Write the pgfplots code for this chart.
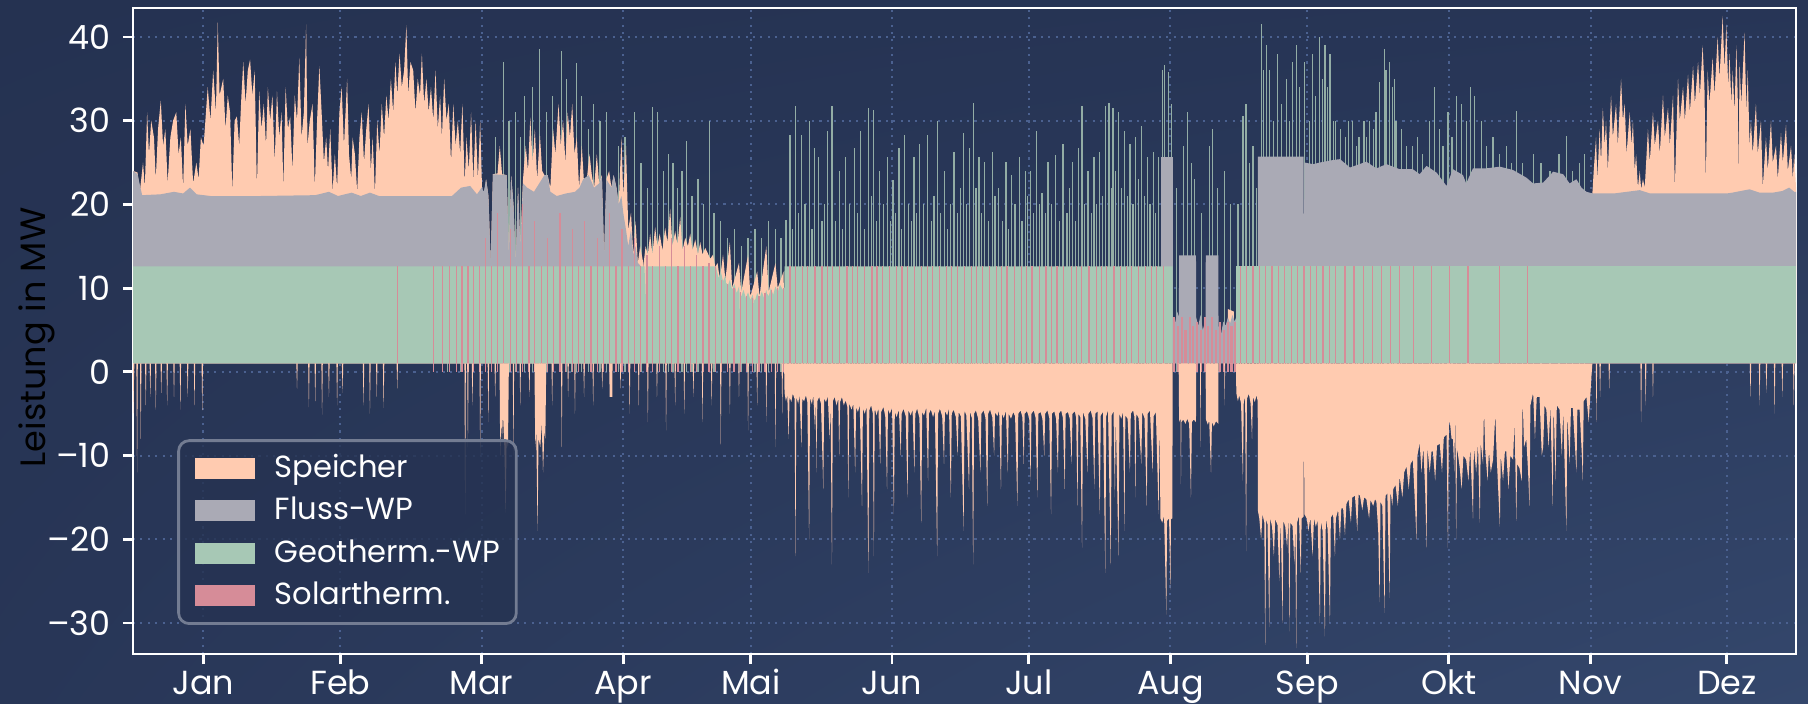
\documentclass[border=0pt]{standalone}
\usepackage{pgfplots}
\pgfplotsset{compat=1.18}
\usetikzlibrary{shadings}
\usepackage{fontspec}
\setmainfont{Poppins}
\definecolor{bg}{HTML}{263352}
\definecolor{bgA}{HTML}{253251}
\definecolor{bgB}{HTML}{273556}
\definecolor{bgC}{HTML}{283657}
\definecolor{bgD}{HTML}{34476C}
\definecolor{speicher}{HTML}{FFCBB0}
\definecolor{fluss}{HTML}{AAAAB5}
\definecolor{geo}{HTML}{A7C8B5}
\definecolor{solar}{HTML}{D68C98}
\definecolor{gridc}{HTML}{4B6190}
\definecolor{spikec}{HTML}{93ADA5}
\definecolor{legbord}{HTML}{737C92}
\begin{document}
\begin{tikzpicture}
\useasboundingbox (0,0) rectangle (18.08,7.03);
\shade[upper left=bgA, upper right=bgB, lower left=bgC, lower right=bgD] (0,0) rectangle (18.08,7.03);
\begin{axis}[
  at={(1.33cm,0.49cm)}, anchor=south west,
  scale only axis, width=16.63cm, height=6.46cm,
  xmin=0, xmax=365, ymin=-33.7, ymax=43.45,
  xtick={15.4,45.5,76.5,107.6,135.6,166.6,196.6,227.7,257.7,288.8,319.9,349.8},
  xticklabels={Jan,Feb,Mar,Apr,Mai,Jun,Jul,Aug,Sep,Okt,Nov,Dez},
  ytick={-30,-20,-10,0,10,20,30,40},
  yticklabels={–30,–20,–10,0,10,20,30,40},
  tick pos=left, tick align=outside, major tick length=0.1cm,
  tick style={white, line width=0.8pt},
  axis line style={white, line width=0.8pt},
  grid=major,
  grid style={gridc, line width=0.55pt, dash pattern=on 0.6pt off 1.5pt},
  tick label style={font=\fontsize{9.5}{11}\selectfont, text=white},
  xticklabel style={anchor=north, inner sep=0pt, text height=0.72em, text depth=0.2em, yshift=-0.04cm},
  ylabel={Leistung in MW},
  ylabel style={font=\fontsize{10.6}{12}\selectfont, text=white},
  every axis y label/.style={at={(axis description cs:-0.058,0.49)}, rotate=90, anchor=center},
  legend image code/.code={\fill[#1, draw=none, sharp corners, fill opacity=1] (0cm,-0.105cm) rectangle (0.6cm,0.105cm);},
  legend cell align=left,
  legend style={at={(axis cs:9.7,-8.05)}, anchor=north west, fill=bg, fill opacity=0.82, text opacity=1, draw=legbord, draw opacity=1,
    line width=0.8pt, rounded corners=3pt, text=white, font=\fontsize{8.7}{10}\selectfont,
    inner xsep=0.16cm, inner ysep=0.12cm, row sep=0.108cm,
    nodes={inner sep=0pt, text height=0.7em, text depth=0.2em},
    /tikz/every odd column/.append style={column sep=0.2cm}},
]
% upward spikes (behind the areas)
\addplot[forget plot, ycomb, spikec, line width=0.35pt] coordinates {
(69,25) (72,24) (79.5,28) (81.3,37) (82.5,30) (84,31) (85.1,28) (86,33) (87.7,34) (89.3,38.5) (90.7,31) (92,33) (94,38.3) (95.2,35) (96.2,30) (97.3,36.9) (98.5,33) (99.9,29) (101,32) (102.5,30) (104,31) (106.5,27) (108,28) (110.1,31) (111.5,25) (113,22) (114.1,31.6) (115.2,31) (116.5,24) (117.5,26) (118.5,25) (119.5,22) (120.5,24) (121.5,27.6) (122.7,21) (124,23) (125.2,20) (126.5,30) (127.5,19) (129,18) (130.5,16) (132,17) (133.5,15) (135,16) (136.5,17) (138,16) (139.5,18) (141,17) (142.2,16)
(143.3,18.1) (144.2,28.3) (144.8,17) (145.4,31.8) (146,19) (146.7,28.3) (147.5,20) (148.4,29.9) (149,17) (149.6,26.7) (150.5,25.6) (151.2,18) (151.8,20) (152.5,28.8) (153.4,31.8) (154.2,18) (155.1,24) (155.7,17) (156.3,25.6) (157.3,20) (158.4,26.7) (159,19) (159.7,28.8) (160.5,17) (161.4,31.5) (162,21) (162.6,31.3) (163.2,18) (163.9,24) (164.7,20) (165.6,25.6) (166.2,18) (166.8,22.9) (167.4,19) (168.1,26.7) (168.7,17) (169.3,28.3) (170.2,20) (170.8,18) (171.4,25.6) (172,19) (172.7,27.2) (173.5,20) (174.4,28.3) (175.2,18) (175.8,21) (176.5,29.9) (177.3,19) (178.1,24) (178.8,17) (179.4,20) (180.2,26.2) (181,19) (181.6,22) (182.3,28.5) (183,20) (183.6,26.7) (184.4,32.1) (185,22) (185.7,25.6) (186.3,19) (186.9,25.1) (187.7,18) (188.6,26.2) (189.2,21) (189.9,21.9) (190.8,18) (191.6,25.1) (192.2,17) (192.8,23.5) (193.6,20) (194.5,25.6) (195.1,18) (195.8,24) (196.4,21) (197,24) (197.6,19) (198.3,28.8) (198.9,20) (199.5,21.3) (200.2,19) (200.8,25.1) (201.6,20) (202.5,25.9) (203.3,18) (204.1,27.2) (205,19) (205.6,22) (206.2,25.1) (206.8,18) (207.5,26.7) (208.3,31.8) (208.9,20) (209.6,24) (210.3,19) (210.9,25.6) (211.5,20) (212.1,26.2) (212.8,21) (213.4,31.8) (214.2,32.1) (214.7,22) (215.1,31.5) (215.7,24) (216.3,31) (217,22) (217.6,28.8) (218.2,21) (218.8,27.2) (219.5,20) (220.1,28) (220.7,23) (221.3,29.4) (222,21) (222.6,25.6) (223.2,20) (223.9,26.2) (224.5,19) (225.1,25.6) (225.9,36) (226.4,36.6) (227.2,35.8) (227.9,32)
(229,22) (230.5,27) (231.5,31) (232.3,25) (233,23) (234.5,19) (236.2,27) (237,29) (238,22) (239.5,24) (240.8,20)
(242.5,20) (243.6,30.5) (244.3,32) (245,25) (245.8,27) (246.5,22) (247.6,41.6) (248.2,36) (248.7,39) (249.4,36) (250.3,30) (251.2,38) (252,32) (253.1,35) (253.8,30) (254.5,37) (255.3,39) (256,34) (257.1,37) (258.2,30) (258.9,38) (259.6,33) (260.4,40) (261,35) (261.6,39) (262.2,34) (262.7,38) (263.5,30) (264,30) (265,29) (266.2,28) (266.7,30) (267.7,30) (268.5,27) (269.1,28) (270.2,30) (270.7,28) (271.3,30) (272.2,29) (272.8,31) (273.6,34.6) (274.7,38.5) (275,36) (275.7,37) (276.5,34) (276.9,35) (277.2,30) (278.4,29) (279.5,27) (280.9,27) (282,28) (283,26) (284.6,30) (285.7,34) (286.8,29) (287.5,27) (288.6,31) (289.5,28) (290.4,33) (291.5,32) (292.6,30) (293.5,34) (294.5,33) (295.9,30) (297,27) (298.5,28) (300,26) (301.4,27) (302.5,25) (303.6,31.2) (305,25) (307.3,26) (309,25) (311,24) (313,26) (314.6,28.2) (316,24) (317.5,25) (318.6,26)
};
% Speicher (positive), total top
\addplot[forget plot, fill=speicher, draw=none] coordinates {
(0,1) (0,24) (1,23.8) (1.5,21.5) (2.2,25) (2.6,22) (3.1,31) (3.5,26) (4.0,30) (4.6,28) (5.0,23) (5.5,29) (6.1,32.4) (6.6,27) (7.1,29) (7.6,22.5) (8.2,28) (8.8,30) (9.5,31) (10,26) (10.5,28) (11.0,22) (11.5,32) (12.0,27) (12.6,29) (13.2,22.5) (13.9,25) (14.4,23) (14.9,28) (15.5,27) (16.4,34) (17,30) (17.6,36) (18.2,31) (18.6,41.7) (19.0,33) (19.8,35) (20.3,29) (20.8,33) (21.3,31) (21.8,21.5) (22.3,30) (22.8,30.5) (23.3,27) (23.8,33) (24.2,37) (24.7,32) (25.2,36) (25.7,37.3) (26.2,33) (26.7,36) (27.2,22) (27.7,33.5) (28.2,29) (28.7,32) (29.2,27) (29.6,34) (30.1,30) (30.6,33) (31.1,25) (31.6,33.5) (32.1,28) (32.6,31) (33.0,22) (33.5,34) (34.0,29) (34.5,30.5) (35,24) (35.5,33) (36.0,30) (36.5,37.5) (37.0,28) (37.5,31) (38.0,41.5) (38.3,27) (38.8,30) (39.4,32) (39.9,22) (40.4,30) (40.9,36.5) (41.4,31) (41.9,25) (42.4,28) (42.8,24) (43.3,29) (43.8,21.5) (44.3,26) (44.8,22) (45.3,31) (45.8,34) (46.3,27) (47,35) (47.4,26) (47.9,23) (48.2,28) (48.7,26) (49.2,21.5) (49.7,28) (50.2,31) (50.7,25) (51.2,29) (51.7,32) (52.2,24) (52.6,28) (53.1,21.3) (53.6,30) (54.1,26) (54.6,32) (55.1,28) (55.6,33) (56.1,30) (56.6,35) (57.1,31) (57.6,37) (58.0,33) (58.5,38) (59.0,34) (59.5,36) (60,41.4) (60.4,33) (60.9,37) (61.5,36) (62,31) (62.5,35) (63,33) (63.4,38) (63.9,32) (64.4,35) (64.9,31) (65.4,34) (65.9,30) (66.4,36) (66.9,29) (67.4,33) (67.8,28) (68.3,35) (68.8,30) (69.3,32) (69.8,25) (70.3,32) (70.8,27) (71.3,30) (71.8,26) (72.3,32) (72.8,22.5) (73.2,28) (73.7,24) (74.2,31) (74.7,22.8) (75.2,30) (75.7,23) (76.2,30) (76.6,22) (77.0,21) (77.5,23) (78,21) (78.5,13) (79,23.6) (80,23.7) (80.5,27) (81,23.6) (82,23.5) (82.5,14) (83.0,23.4) (83.5,20) (84,13) (84.5,22) (85,15) (85.6,23) (86.2,27) (86.7,24) (87.2,30.4) (87.7,25) (88.2,29) (88.7,23) (89.3,28.4) (89.8,24) (90.3,23.5) (91,23.5) (91.6,22) (92.2,29) (92.7,26) (93.4,32) (93.9,27) (94.4,30) (94.9,25) (95.4,31) (95.9,28) (96.4,32) (96.9,26) (97.4,28) (97.9,22) (98.5,27) (99,22.5) (99.6,23) (100.2,26) (100.7,23.5) (101.2,22) (101.8,26) (102.3,22.5) (102.9,23.5) (103.4,14) (103.9,23) (104.5,24) (105,22) (105.5,23.5) (106.1,22) (106.6,20) (107.2,28) (107.6,21) (108.2,27) (108.7,17) (109.3,19) (109.8,14) (110.3,18) (110.8,13) (111.3,15) (112,13) (112,1)
} -- cycle;
\addplot[forget plot, fill=speicher, draw=none] coordinates {
(112,1) (112,12.6) (112.5,15) (113,14) (113.5,16.5) (114,14) (114.6,17.3) (115.1,15) (115.6,16.5) (116.2,14.5) (116.8,17.2) (117.3,15.5) (117.9,19.5) (118.4,15) (119,16.8) (119.5,15.2) (120.1,18.5) (120.6,14.5) (121.2,16) (121.8,15) (122.3,16.5) (122.8,14.5) (123.4,15.8) (124,14) (124.5,15.5) (125,14) (125.6,14.8) (126.2,14.1) (126.7,13.5) (127.3,14) (127.8,12.5) (128.3,13) (128.8,11) (129.5,14) (130,11) (131,15.5) (131.5,10) (133,13) (133.5,9.5) (135,14) (135.5,9) (137,12) (137.5,9) (139,15) (139.5,9.5) (141,13) (141.5,10) (142.8,12) (143,1)
} -- cycle;
\addplot[forget plot, fill=speicher, draw=none] coordinates {
(240.2,1) (240.3,7.5) (241.6,7.2) (241.7,1)
} -- cycle;
\addplot[forget plot, fill=speicher, draw=none] coordinates {
(320.3,1) (320.3,21.3) (320.6,24) (321.1,28) (321.4,23) (321.9,29) (322.2,25) (322.6,31.5) (323,27) (323.3,30) (323.7,24) (324.4,33) (324.8,28) (325.5,32) (325.9,27) (326.6,35) (327,30) (327.4,32) (327.8,26) (328.5,31) (328.9,27) (329.2,30) (329.6,24) (329.9,26) (330.3,22) (330.7,24) (331,21.8) (331.4,23) (331.8,22) (332.5,29) (332.9,25) (333.6,31) (334,27) (334.7,30) (335.1,26) (335.8,33) (336.2,28) (336.9,31.5) (337.3,27) (338,33) (338.4,22) (339.1,35) (339.5,30) (340.2,34) (340.6,30) (341.3,35.5) (341.7,31) (342.4,36.5) (342.8,32) (343.5,37) (343.9,33) (344.5,39) (344.9,34) (345.2,22.5) (345.6,36) (346,32) (346.7,37.5) (347.1,33) (347.8,40) (348.2,35) (348.9,42.5) (349.3,36) (349.7,41.5) (350.1,34) (350.4,38) (350.8,32) (351.1,36) (351.5,31) (351.9,39) (352.2,33) (352.4,23) (352.6,37) (353,32) (353.7,40.5) (354.1,31) (354.4,36) (354.8,27) (355.1,30) (355.5,26) (356.2,32) (356.6,26) (357.3,30) (357.7,22) (358.4,28) (358.8,24) (359.5,30) (359.9,25) (360.6,27) (361,23) (361.7,28.5) (362.1,25) (362.8,29.5) (363.2,24) (363.9,27) (364.3,23) (364.6,26) (365,22) (365,1)
} -- cycle;
% Fluss-WP top
\addplot[forget plot, fill=fluss, draw=none] coordinates {
(0,1) (0,24) (1,23.6) (2,21.1) (6,21.2) (9,21.5) (11,21.3) (12.5,22) (14,21.2) (17,21) (28,21) (40,21.1) (43,21.5) (45,21) (48,21.4) (50,21) (52,21.4) (54,21) (66,21) (70,21) (72,22) (74,22.2) (75.5,21.2) (76.5,22) (77,21.5) (77.5,23) (78,21) (78.5,13) (79,23.6) (82,23.5) (82.5,14) (83,23.4) (83.5,20) (84,13) (84.5,22) (85,15) (85.6,22.5) (86.5,22) (88,21.5) (90.3,23.5) (91,23.5) (91.6,21.5) (93,21) (95,21.3) (97,21.5) (98,22) (98.8,23) (100,23.5) (101.2,22) (102.3,22.5) (102.9,23.3) (103.4,14) (103.9,23) (105,22) (105.5,23.5) (106.1,22) (106.6,20) (107.2,21) (107.6,19) (108.2,17) (108.7,15) (109.3,17) (109.8,14) (110.3,15) (110.8,13) (111.5,12.6) (111.5,1)
} -- cycle;
\addplot[forget plot, fill=fluss, draw=none] coordinates {
(225.6,1) (225.6,25.7) (228.15,25.7) (228.15,1)
} -- cycle;
\addplot[forget plot, fill=fluss, draw=none] coordinates {
(228.2,1) (228.25,6.5) (228.7,5.8) (229.2,7.2) (229.55,6.5) (229.6,13.9) (233.3,13.9) (233.35,6.5) (233.8,5.5) (234.3,6.8) (234.8,5) (235.4,6.2) (235.45,13.9) (238.2,13.9) (238.25,5.5) (238.8,4.5) (239.3,6) (239.8,5.5) (240.3,6.5) (240.8,5.8) (241.3,6.8) (241.8,6) (242.1,6.5) (242.1,1)
} -- cycle;
\addplot[forget plot, fill=fluss, draw=none] coordinates {
(246.85,1) (246.9,25.7) (256.9,25.7) (257.0,13) (257.1,25) (259,24.8) (260.5,25) (263.4,25.3) (264.9,25.4) (267.1,24.4) (270.7,25.1) (272.9,24.3) (275.1,24.8) (278,24.2) (280.9,24.2) (282.4,23.6) (283.9,24.6) (286.1,23.8) (288.3,22.2) (289.7,24.2) (291.9,23.5) (292.6,22.5) (294.1,24.3) (297,24.3) (300,24.5) (302.9,24.1) (305.8,23.2) (307.3,22.5) (309.5,22.6) (311.7,23.9) (313.9,23.6) (315.3,22.5) (316.8,23) (317.9,22) (319,21.5) (320.4,21.3) (325,21.3) (330.7,21.7) (333,21.3) (349.7,21.3) (351,21.4) (354.8,21.8) (357,21.4) (359.9,21.4) (362,21.6) (363.5,22) (364.6,21.5) (365,21.5) (365,1)
} -- cycle;
% Geotherm.-WP top
\addplot[forget plot, fill=geo, draw=none] coordinates {
(0,1) (0,12.6) (112.3,12.6) (112.4,8) (112.55,12.6) (128,12.6) (128,12.4) (128.5,11.2) (129,12) (129.5,10.8) (130,11.5) (130.15,10.6) (130.2,5) (130.25,10.6) (130.5,10.2) (131,11) (131.5,9.8) (132,10.5) (132.5,9.4) (133,10.2) (133.15,9.2) (133.2,4.5) (133.25,9.2) (133.5,9) (134,9.8) (134.5,8.8) (135,9.5) (135.5,8.6) (136,9.2) (136.15,8.7) (136.2,6) (136.25,8.7) (136.5,8.5) (137,9.4) (137.5,8.7) (138,9.6) (138.5,8.8) (139,9.8) (139.15,9.3) (139.2,5) (139.25,9.3) (139.5,9) (140,10) (140.5,9.2) (141,10.2) (141.5,9.5) (142,10.4) (142.6,9.8) (142.95,10) (143,12.6) (228.2,12.6) (228.2,1)
} -- cycle;
\addplot[forget plot, fill=geo, draw=none] coordinates {
(242.1,1) (242.1,12.6) (365,12.6) (365,1)
} -- cycle;
% Solartherm. lines
\addplot[forget plot, ycomb, solar, line width=0.35pt] coordinates {
(58,12.6) (66,12.6) (68,12.6) (69.5,12.6) (71,12.6) (72.2,12.6) (73.5,12.6) (74.8,12.6) (76,12.6) (77.3,16) (78.6,12.6) (80,19) (81.4,12.6) (82.8,17) (84.2,12.6) (85.5,20) (86.9,12.6) (88.2,18) (89.6,12.6) (91,16) (92.3,12.6) (93.7,19) (95,12.6) (96.4,17) (97.8,12.6) (99.1,18) (100.5,12.6) (101.9,16) (103.2,12.6) (104.6,19) (106,12.6) (107.3,17) (108.7,12.6) (110,16) (111.4,12.6) (112.8,14) (114.1,12.6) (115.5,15) (116.9,12.6) (118.2,16) (119.6,12.6) (121,15) (122.3,12.6) (123.7,14) (125.1,12.6) (126.4,13) (127.8,12.6) (129.2,11) (130.5,10.5) (131.9,10) (133.3,9.5) (134.6,9) (136,8.8) (137.4,9) (138.7,9.4) (140.1,9.8) (141.5,10) (142.8,10)
(144.2,12.6) (145.4,12.6) (146.9,12.6) (148.1,12.6) (149.7,12.6) (151.2,12.6) (152.4,12.6) (153.6,12.6) (155.1,12.6) (156.7,12.6) (157.9,12.6) (159.0,12.6) (160.6,12.6) (162.2,12.6) (163.3,12.6) (164.5,12.6) (166.1,12.6) (167.6,12.6) (168.8,12.6) (170.0,12.6) (171.5,12.6) (173.1,12.6) (174.3,12.6) (175.4,12.6) (177,12.6) (178.6,12.6) (179.7,12.6) (180.9,12.6) (182.5,12.6) (184.0,12.6) (185.2,12.6) (186.4,12.6) (187.9,12.6) (189.5,12.6) (190.7,12.6) (191.8,12.6) (193.4,12.6) (195.0,12.6) (196.1,12.6) (197.3,12.6) (198.9,12.6) (200.4,12.6) (201.6,12.6) (202.8,12.6) (204.3,12.6) (205.9,12.6) (207.1,12.6) (208.2,12.6) (209.8,12.6) (211.4,12.6) (212.5,12.6) (213.7,12.6) (215.3,12.6) (216.8,12.6) (218,12.6) (219.2,12.6) (220.7,12.6) (222.3,12.6) (223.5,12.6) (224.6,12.6) (226.2,12.6)
(243,12.6) (244.4,12.6) (245.8,12.6) (247.2,12.6) (248.6,12.6) (250,12.6) (251.4,12.6) (252.8,12.6) (254.2,12.6) (255.6,12.6) (257,12.6) (258.4,12.6) (259.8,12.6) (261.2,12.6) (262.6,12.6) (264,12.6) (266,12.6) (268,12.6) (270,12.6) (272,12.6) (274,12.6) (276,12.6) (278,12.6) (281,12.6) (285,12.6) (289,12.6) (293,12.6) (300,12.6) (306,12.6)
};
\addplot[forget plot, ycomb, solar, line width=0.6pt] coordinates {
(228.5,6.5) (229.3,5.5) (230.2,6.5) (231,5) (231.9,6.5) (232.7,5.5) (233.6,6) (234.4,5) (235.2,6.5) (236,5.5) (236.9,6.5) (237.7,5) (238.6,6) (239.4,5) (240.3,6) (241.1,5.5) (241.9,6)
};
% Speicher (negative)
\addplot[forget plot, fill=speicher, draw=none] coordinates {
(0,1) (0.05,-5) (0.3,1) (0.75,1) (0.9,-12) (1.05,1) (1.55,1) (1.7,-8) (1.85,1) (2.65,1) (2.8,-4) (2.95,1) (3.65,1) (3.8,-3) (3.95,1) (4.85,1) (5,-4.5) (5.15,1) (6.05,1) (6.2,-2.5) (6.35,1) (7.35,1) (7.5,-4) (7.65,1) (8.85,1) (9,-3) (9.15,1) (10.25,1) (10.4,-4.5) (10.55,1) (11.85,1) (12,-3) (12.15,1) (13.35,1) (13.5,-4) (13.65,1) (15.05,1) (15.2,-4.6) (15.35,1)
(35.85,1) (36,-2) (36.15,1) (38.45,1) (38.6,-4.2) (38.75,1) (39.85,1) (40,-3.5) (40.15,1) (41.35,1) (41.5,-5.1) (41.65,1) (42.85,1) (43,-3) (43.15,1) (44.65,1) (44.8,-4) (44.95,1) (45.85,1) (46,-2.5) (46.15,1) (50.45,1) (50.6,-4) (50.75,1) (51.85,1) (52,-5) (52.15,1) (53.35,1) (53.5,-3) (53.65,1) (54.85,1) (55,-4.3) (55.15,1) (57.85,1) (58,-2) (58.15,1)
(72.75,1) (72.9,-17) (73.05,1) (73.35,1) (73.5,-9) (73.65,1) (74.35,1) (74.5,-4) (74.65,1) (76.05,1) (76.2,-10) (76.35,1) (77.85,1) (78,-6) (78.15,1) (79.35,1) (79.5,-3) (79.65,1) (80.45,1) (80.6,-10) (80.8,-6) (81.0,-8) (81.2,-5) (81.5,-9) (81.8,-16.8) (82.0,-8) (82.3,-9) (82.5,1) (83.35,1) (83.5,-10) (83.65,1) (84.85,1) (85,-4) (85.15,1) (86.85,1) (87,-3) (87.15,1) (88.1,1) (88.3,-9) (88.5,-7) (88.8,-19) (89.0,-8) (89.4,-9) (89.7,-6) (90,-12) (90.3,-7) (90.5,-8) (90.7,1) (91.85,1) (92,-4) (92.15,1) (93.95,1) (94.1,-9) (94.25,1) (95.35,1) (95.5,-3) (95.65,1) (96.85,1) (97,-5) (97.15,1) (98.85,1) (99,-3) (99.15,1) (100.85,1) (101,-4) (101.15,1) (102.85,1) (103,-2) (103.15,1) (104.55,1) (104.6,-3) (105.2,-3) (105.25,1) (106.85,1) (107,-2) (107.15,1) (108.85,1) (109,-5) (109.15,1) (110.85,1) (111,-4) (111.15,1) (112.85,1) (113,-6) (113.15,1) (114.85,1) (115,-3) (115.15,1) (116.85,1) (117,-7) (117.15,1) (118.85,1) (119,-4) (119.15,1) (120.85,1) (121,-5) (121.15,1) (122.85,1) (123,-3) (123.15,1) (124.85,1) (125,-6) (125.15,1) (126.85,1) (127,-4) (127.15,1) (128.85,1) (129,-8.7) (129.15,1) (130.85,1) (131,-5) (131.15,1) (132.85,1) (133,-3) (133.15,1) (134.85,1) (135,-7) (135.15,1) (136.85,1) (137,-4) (137.15,1) (138.85,1) (139,-6) (139.15,1) (140.85,1) (141,-9) (141.15,1) (142.35,1) (142.5,-5) (142.65,1) (142.9,1)
(143.0,-2.5) (143.3,-3.5) (143.6,-2.8) (143.9,-8) (144.1,-3) (144.5,-3.6) (144.8,-2.6) (145.2,-3.2) (145.4,-22) (145.6,-3) (146,-3.8) (146.3,-2.7) (146.7,-9) (146.9,-3.2) (147.3,-3.5) (147.7,-2.8) (148,-3.6) (148.4,-20) (148.6,-3) (149,-3.9) (149.3,-2.8) (149.7,-7) (149.9,-3.3) (150,-12) (150.2,-3.5) (150.6,-3) (151,-3.8) (151.5,-14) (151.7,-3.2) (152.1,-3.6) (152.5,-2.9) (152.9,-8) (153.1,-3.4) (153.4,-23) (153.6,-3.5) (154,-3) (154.4,-4) (154.8,-3.2) (155,-10) (155.2,-3.6) (155.6,-3) (156,-4) (156.4,-3.4) (156.8,-4.2) (157,-15) (157.2,-3.8) (157.7,-4.5) (158.1,-3.8) (158.5,-12) (158.7,-4.2) (159.1,-4.8) (159.5,-4) (160,-16) (160.2,-4.4) (160.6,-5) (161,-4.2) (161.4,-24) (161.6,-4.6) (162,-4) (162.4,-5) (162.6,-22) (162.8,-4.4) (163.2,-5.2) (163.6,-4.3) (164,-11) (164.2,-4.8) (164.7,-4.2) (165.1,-5.3) (165.5,-14) (165.7,-4.5) (166.1,-5) (166.6,-4.3) (167,-17) (167.2,-4.8) (167.6,-5.4) (168.1,-4.5) (168.5,-10) (168.7,-5) (169.1,-4.4) (169.6,-5.3) (170,-15) (170.2,-4.6) (170.7,-5.2) (171.1,-4.5) (171.5,-12) (171.7,-5) (172.1,-4.4) (172.6,-5.5) (173,-18) (173.2,-4.8) (173.6,-5.2) (174.1,-4.3) (174.5,-13) (174.7,-5) (175.1,-4.5) (175.6,-5.4) (176,-4.6) (176.5,-22) (176.7,-5) (177.1,-4.4) (177.6,-5.3) (178,-11) (178.2,-4.7) (178.7,-5.2) (179.1,-4.4) (179.5,-15) (179.7,-5) (180.1,-4.5) (180.6,-5.4) (181,-10) (181.2,-4.8) (181.7,-5.3) (182.3,-19) (182.5,-4.6) (182.9,-5.2) (183.5,-14) (183.7,-4.8) (184.1,-5.5) (184.4,-23) (184.6,-5) (185,-4.6) (185.5,-5.6) (186,-12) (186.2,-5) (186.7,-4.6) (187.1,-5.5) (187.5,-16) (187.7,-5) (188.1,-4.5) (188.6,-5.4) (189,-10) (189.2,-4.8) (189.7,-5.3) (190.1,-4.6) (190.5,-14) (190.7,-5) (191.1,-5.5) (191.6,-4.7) (192,-12) (192.2,-5) (192.7,-5.6) (193.2,-4.8) (193.6,-5.3) (194.1,-16) (194.3,-5) (194.8,-4.6) (195.2,-5.4) (195.5,-11) (195.7,-5) (196.2,-4.7) (196.7,-5.5) (197,-13) (197.2,-5) (197.7,-4.6) (198.1,-5.5) (198.5,-15) (198.7,-5) (199.2,-4.8) (199.6,-5.6) (200,-10) (200.2,-5) (200.7,-4.6) (201.1,-5.5) (201.5,-17) (201.7,-5) (202.2,-4.7) (202.6,-5.6) (203,-12) (203.2,-5) (203.7,-4.6) (204.1,-5.5) (204.5,-14) (204.7,-5) (205.2,-4.8) (205.6,-5.6) (206,-11) (206.2,-5) (206.7,-4.7) (207.0,-5.5) (207.3,-16) (207.5,-5) (207.9,-5.4) (208.3,-21) (208.5,-4.8) (209,-5.6) (209.5,-12) (209.7,-5) (210.2,-4.6) (210.6,-5.5) (211,-14) (211.2,-5) (211.7,-4.7) (212.2,-17) (212.4,-5.2) (212.9,-4.8) (213.4,-24) (213.6,-5.3) (214,-4.6) (214.6,-23) (214.8,-5.2) (215.2,-4.7) (215.5,-15) (215.7,-5.3) (216.3,-22) (216.5,-5) (216.9,-5.6) (217.3,-4.8) (217.6,-19) (217.8,-5.2) (218.3,-5.6) (218.8,-12) (219,-5) (219.5,-4.6) (219.8,-5.4) (220,-15) (220.2,-5) (220.7,-5.5) (221.3,-11) (221.5,-4.8) (222,-5.5) (222.5,-16) (222.7,-5) (223.2,-4.6) (223.8,-12) (224,-5.3) (224.5,-4.8) (225.1,-17) (225.3,-5.2) (225.5,-17.5) (225.9,-18) (226.3,-17.2) (226.8,-29) (226.95,-17.8) (227.4,-17.5) (227.7,-26) (227.8,-17.6) (228.1,-17.5) (228.2,1)
(229.5,1) (229.6,-6) (229.9,-5.5) (230,-13.4) (230.1,-6) (230.5,-5.7) (231,-6.2) (231.4,-5.6) (231.8,-6.2) (232.2,-15) (232.4,-6) (232.8,-5.7) (233.3,-6) (233.35,1) (234.2,1) (234.3,-9) (234.4,1) (235.4,1) (235.5,-5.7) (235.9,-6.3) (236.2,-5.8) (236.6,-12) (236.8,-6) (237.2,-6.5) (237.7,-5.9) (238.2,-6.2) (238.25,1) (239.5,1) (239.6,-4) (239.7,1) (242.1,1)
(242.15,-2.5) (242.5,-3.5) (242.8,-2.8) (243.2,-3.8) (243.6,-13) (243.8,-3) (244.1,-3.6) (244.3,-21.4) (244.5,-3.2) (244.9,-2.6) (245.3,-3.8) (245.6,-8) (245.8,-3) (246.2,-3.6) (246.6,-2.8) (246.85,-3.5) (246.9,-16.6) (247.2,-17.5) (247.6,-20) (247.9,-17) (248.3,-18) (248.5,-32.6) (248.7,-17.6) (249,-18.2) (249.4,-30.5) (249.6,-17.5) (250,-18.5) (250.4,-22) (250.7,-17.6) (251.2,-18.3) (251.6,-25) (251.9,-17.4) (252.3,-30) (252.5,-17.8) (252.9,-18.5) (253.3,-21) (253.6,-17.5) (253.8,-31) (254,-18) (254.5,-18.4) (254.9,-23) (255.1,-17.6) (255.3,-33) (255.5,-18) (255.9,-17.2) (256.3,-24) (256.5,-17.5) (256.9,-17.3) (257.0,-5) (257.1,-17) (257.6,-17.5) (258,-19) (258.4,-17.4) (258.9,-22) (259.2,-17.5) (259.6,-18.5) (260,-17.7) (260.5,-30) (260.7,-17.8) (261.1,-19) (261.6,-31.6) (261.8,-17.5) (262.2,-18.8) (262.7,-30) (262.9,-17.4) (263.4,-17) (263.8,-22) (264,-17.5) (264.5,-16.5) (264.9,-20) (265.2,-16.3) (265.6,-16.3) (266,-19.5) (266.3,-15.8) (266.8,-15.2) (267.3,-18) (267.6,-15) (268.2,-14.8) (268.7,-19) (269,-14.6) (269.3,-14.8) (269.8,-16.5) (270.2,-15) (270.7,-15.2) (271.3,-17.5) (271.6,-15.3) (272.2,-16) (272.6,-15.2) (272.9,-15.5) (273.3,-19) (273.6,-27.5) (273.8,-15.5) (274.2,-16) (274.7,-28.8) (274.9,-14.8) (275.3,-14.5) (275.8,-27) (276,-14.2) (276.4,-16) (276.6,-14) (277.1,-13.5) (277.6,-16) (278,-12.5) (278.6,-15) (279,-12) (279.5,-11.3) (280,-14) (280.4,-11) (280.9,-10.5) (281.3,-15) (281.7,-20) (281.9,-10) (282.4,-8.5) (282.8,-12) (283.2,-9) (283.6,-14) (283.9,-21) (284.1,-9) (284.6,-12) (285,-9.5) (285.3,-9.5) (285.8,-13) (286.2,-8.8) (286.8,-8.6) (287.3,-12) (287.7,-7.8) (288.3,-7.5) (288.6,-21) (288.8,-6.5) (289,-5.8) (289.4,-8) (289.7,-8) (290.0,-12) (290.2,-4.5) (290.4,-20) (290.6,-9) (291.2,-11.5) (291.6,-14) (292,-10) (292.6,-10.5) (293.1,-13) (293.5,-9) (294.1,-17.5) (294.3,-9) (294.8,-12) (295.2,-8.5) (295.6,-18) (295.8,-8.5) (296.3,-11) (296.5,-4.5) (296.8,-9.5) (297.3,-13) (297.6,-9.5) (298,-12) (298.5,-10.5) (299,-5) (299.3,-10) (300,-18.5) (300.2,-10) (300.7,-13) (301.1,-9.5) (301.4,-9.5) (301.9,-14) (302.3,-10) (302.9,-10.5) (303.2,-6) (303.4,-11) (303.6,-17.8) (303.8,-11) (304.3,-11.5) (304.8,-13) (305,-3) (305.3,-9) (305.8,-8) (306.2,-12) (306.5,-16) (306.7,-4) (307.3,-2.5) (307.7,-8) (308.1,-3) (308.7,-3) (309.2,-10) (309.5,-9) (309.8,-4) (310.2,-4.5) (310.7,-9) (311.1,-4) (311.6,-16) (311.8,-3.5) (312.2,-13) (312.5,-4) (313.1,-4.5) (313.6,-10) (313.9,-4.5) (314.6,-19) (314.8,-5) (315.3,-11) (315.6,-4.3) (316,-4.3) (316.5,-9) (316.8,-12) (317,-4.5) (317.5,-4.5) (318,-10) (318.2,-13) (318.4,-3.5) (319,-3) (319.5,-6) (320.1,-0.5) (320.3,1)
(321.05,1) (321.2,-6) (321.35,1) (321.85,1) (322,-3) (322.15,1) (323.85,1) (324,-2) (324.15,1) (330.85,1) (331,-6) (331.15,1) (331.85,1) (332,-4) (332.15,1) (333.45,1) (333.6,-3) (333.75,1) (354.85,1) (355,-3) (355.15,1) (356.85,1) (357,-4) (357.15,1) (358.35,1) (358.5,-2.5) (358.65,1) (360.15,1) (360.3,-5) (360.45,1) (361.85,1) (362,-3) (362.15,1) (364.35,1) (364.5,-4) (364.65,1) (365,1)
} -- cycle;
\addlegendimage{fill=speicher}
\addlegendentry{Speicher}
\addlegendimage{fill=fluss}
\addlegendentry{Fluss-WP}
\addlegendimage{fill=geo}
\addlegendentry{Geotherm.-WP}
\addlegendimage{fill=solar}
\addlegendentry{Solartherm.}
\end{axis}
\end{tikzpicture}
\end{document}
